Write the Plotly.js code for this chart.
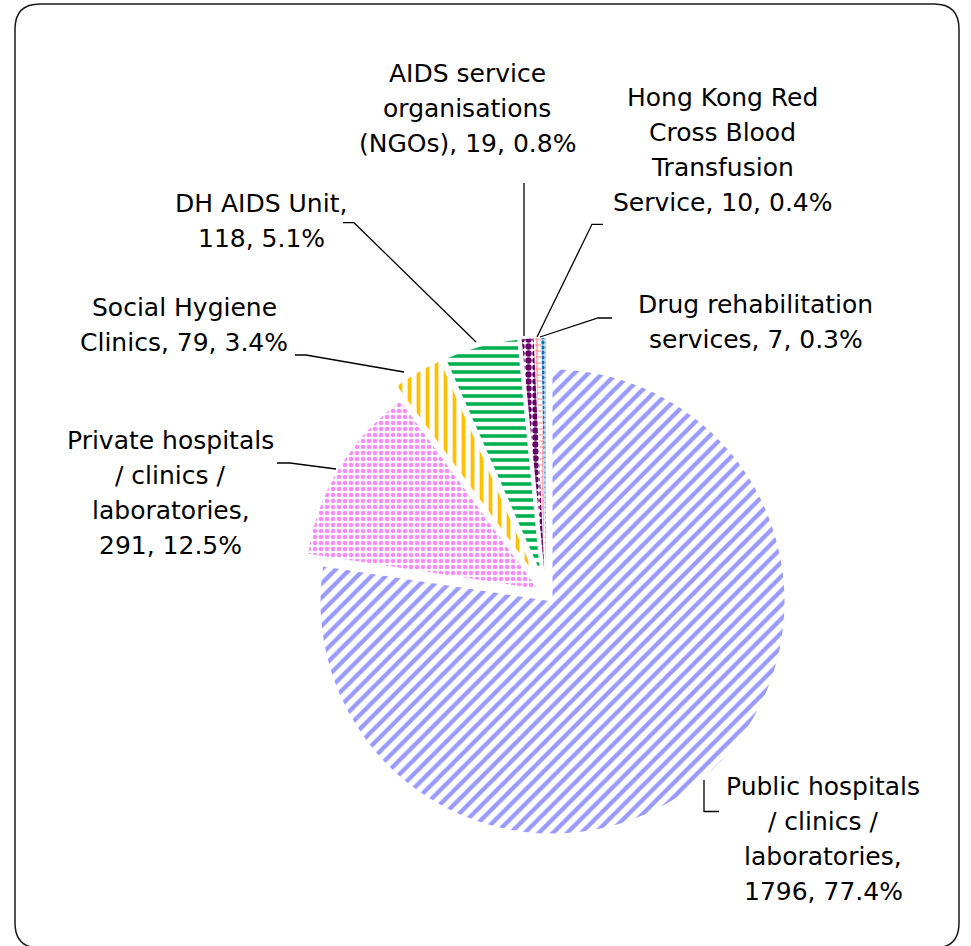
<!DOCTYPE html>
<html>
<head>
<meta charset="utf-8">
<script src="https://cdn.plot.ly/plotly-3.0.1.min.js"></script>
<style>
  html, body { margin: 0; padding: 0; background: #ffffff; }
  #chart { width: 971px; height: 946px; }
</style>
</head>
<body>
<div id="chart"></div>
<script>
// ---- Data ----
const categories = [
  'Public hospitals / clinics / laboratories',
  'Private hospitals / clinics / laboratories',
  'Social Hygiene Clinics',
  'DH AIDS Unit',
  'AIDS service organisations (NGOs)',
  'Hong Kong Red Cross Blood Transfusion Service',
  'Drug rehabilitation services'
];
const counts = [1796, 291, 79, 118, 19, 10, 7];

// ---- Styles ----
const fgColors = ['#9999FF', '#FF88FF', '#FFC000', '#00B050', '#660066', '#FF7C80', '#0070C0'];
const bgColors = ['#FFFFFF', '#FFFFFF', '#FFFFFF', '#FFFFFF', '#FFFFFF', '#FFFFFF', '#BDD7EE'];
const patShapes = ['/', '.', '|', '-', '.', '+', '.'];
const patSizes = [10, 6, 9, 8, 7, 6, 5];
const patSolid = [0.42, 0.45, 0.42, 0.45, 0.65, 0.35, 0.5];
const pulls = [0.043, 0.043, 0.103, 0.103, 0.103, 0.103, 0.103];

// label layout: words per line, anchor (pixel centre x, first-line centre y)
const wordsPerLine = [[2,3,1,2],[2,3,1,2],[2,3],[3,2],[2,1,3],[3,2,1,3],[2,3]];
const labelPos = [[823,786],[170.5,440.5],[184,307.6],[261,203.6],[467,73.6],[722.5,97.6],[755.5,304.2]];
const lineGap = 35;

// leader lines in pixel coords
const leaders = [
  [[704,780],[704,811.5],[719,811.5]],
  [[277,463],[290,463],[336,469]],
  [[295,355],[306,355],[404,372]],
  [[343,222.7],[354,222.7],[476,342]],
  [[524,183],[524,336]],
  [[603,224.3],[592,224.3],[537,337]],
  [[612,318],[598,318],[540,337]]
];

const W = 971, H = 946;
const px = x => x / W;
const py = y => 1 - y / H;

const total = counts.reduce((a, b) => a + b, 0);
const annotations = [];
categories.forEach((cat, i) => {
  const pct = (counts[i] / total * 100).toFixed(1);
  const words = `${cat}, ${counts[i]}, ${pct}%`.split(' ');
  let k = 0;
  wordsPerLine[i].forEach((n, li) => {
    const line = words.slice(k, k + n).join(' ');
    k += n;
    annotations.push({
      xref: 'paper', yref: 'paper',
      x: px(labelPos[i][0]), y: py(labelPos[i][1] + li * lineGap),
      xanchor: 'center', yanchor: 'middle',
      text: line, showarrow: false,
      font: { family: 'DejaVu Sans, Verdana, sans-serif', size: 25, color: '#000000' }
    });
  });
});

const shapes = leaders.map(pts => ({
  type: 'path', xref: 'paper', yref: 'paper',
  path: pts.map((p, j) => (j === 0 ? 'M' : 'L') + px(p[0]) + ',' + py(p[1])).join(' '),
  line: { color: '#000000', width: 1.3 }
}));

// rounded frame
(function () {
  const x0 = 15, y0 = 4, x1 = 959, y1 = 948, R = 25;
  const P = (x, y) => px(x) + ',' + py(y);
  const path = 'M' + P(x0 + R, y0) + ' L' + P(x1 - R, y0) +
    ' Q' + P(x1, y0) + ' ' + P(x1, y0 + R) +
    ' L' + P(x1, y1 - R) + ' Q' + P(x1, y1) + ' ' + P(x1 - R, y1) +
    ' L' + P(x0 + R, y1) + ' Q' + P(x0, y1) + ' ' + P(x0, y1 - R) +
    ' L' + P(x0, y0 + R) + ' Q' + P(x0, y0) + ' ' + P(x0 + R, y0) + ' Z';
  shapes.push({ type: 'path', xref: 'paper', yref: 'paper', path: path,
    line: { color: '#1a1a1a', width: 1.5 }, fillcolor: 'rgba(0,0,0,0)' });
})();

const trace = {
  type: 'pie',
  labels: categories,
  values: counts,
  sort: false,
  direction: 'clockwise',
  rotation: 0,
  pull: pulls,
  textinfo: 'none',
  hoverinfo: 'label+value+percent',
  showlegend: false,
  domain: { x: [0.29876, 0.82585], y: [0.10159, 0.64260] },
  marker: {
    colors: fgColors,
    line: { width: 0 },
    pattern: {
      shape: patShapes,
      fgcolor: fgColors,
      bgcolor: bgColors,
      size: patSizes,
      solidity: patSolid,
      fillmode: 'replace'
    }
  }
};

const layout = {
  width: W, height: H,
  margin: { l: 0, r: 0, t: 0, b: 0 },
  paper_bgcolor: '#ffffff',
  plot_bgcolor: '#ffffff',
  showlegend: false,
  annotations: annotations,
  shapes: shapes
};

Plotly.newPlot('chart', [trace], layout, { displayModeBar: false, staticPlot: true });
</script>
</body>
</html>
